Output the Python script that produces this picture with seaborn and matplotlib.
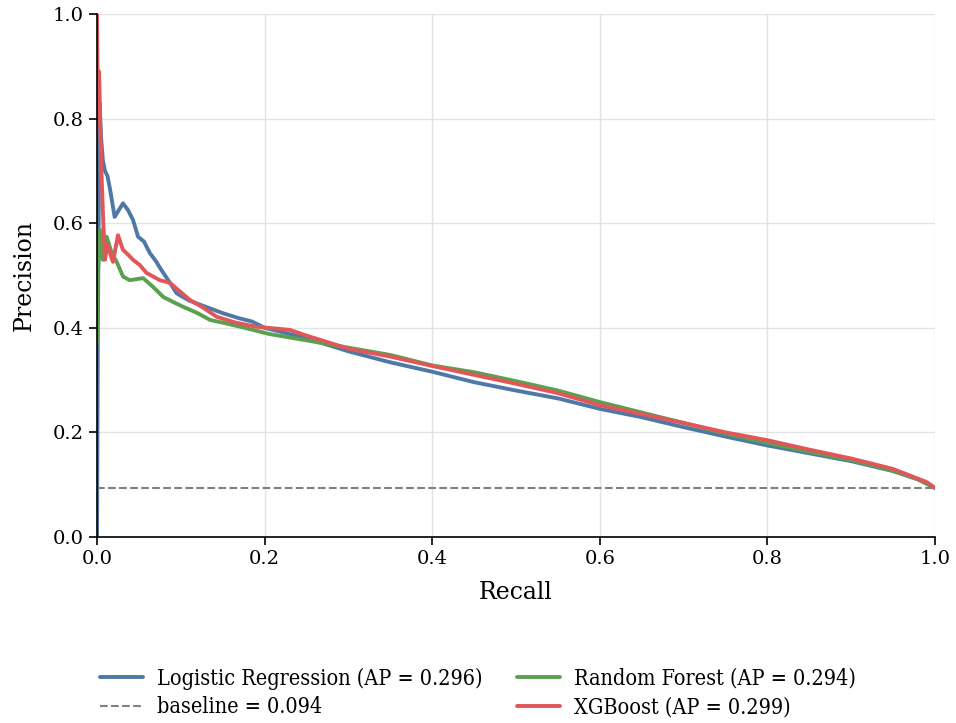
import numpy as np
import pandas as pd
import matplotlib
matplotlib.use("Agg")
import matplotlib.pyplot as plt
import seaborn as sns

# values
lr_recall = [0.0, 0.001, 0.003, 0.005, 0.007, 0.0095, 0.0125, 0.0155, 0.021, 0.026, 0.031, 0.037, 0.043, 0.049,
             0.056, 0.063, 0.070, 0.077, 0.087, 0.095, 0.11, 0.13, 0.15, 0.17, 0.185, 0.2, 0.25, 0.3,
             0.35, 0.4, 0.45, 0.5, 0.55, 0.6, 0.65, 0.7, 0.75, 0.8, 0.85, 0.9, 0.95, 0.98, 1.0]
lr_precision = [0.0, 0.40, 0.83, 0.76, 0.72, 0.70, 0.69, 0.665, 0.612, 0.625, 0.638, 0.625, 0.606, 0.574,
                0.565, 0.543, 0.528, 0.510, 0.486, 0.466, 0.452, 0.440, 0.428, 0.418, 0.412, 0.400, 0.380, 0.355,
                0.334, 0.316, 0.296, 0.280, 0.265, 0.245, 0.229, 0.210, 0.192, 0.175, 0.160, 0.145, 0.126, 0.110, 0.094]

rf_recall = [0.0, 0.001, 0.0036, 0.007, 0.0115, 0.0175, 0.0235, 0.031, 0.039, 0.047, 0.055, 0.067,
             0.079, 0.09, 0.103, 0.12, 0.135, 0.155, 0.171, 0.206, 0.25, 0.3, 0.35, 0.4, 0.45,
             0.5, 0.55, 0.6, 0.65, 0.7, 0.75, 0.8, 0.85, 0.9, 0.95, 0.98, 1.0]
rf_precision = [0.37, 0.50, 0.587, 0.530, 0.574, 0.543, 0.526, 0.498, 0.491, 0.493, 0.495, 0.478,
                0.459, 0.450, 0.440, 0.428, 0.415, 0.408, 0.402, 0.388, 0.376, 0.362, 0.348, 0.328, 0.315,
                0.298, 0.280, 0.258, 0.238, 0.218, 0.198, 0.180, 0.163, 0.147, 0.127, 0.110, 0.094]

xgb_recall = [0.0, 0.001, 0.0025, 0.0036, 0.0056, 0.0075, 0.0095, 0.0125, 0.0155, 0.019, 0.025, 0.031,
              0.037, 0.043, 0.051, 0.059, 0.075, 0.087, 0.10, 0.111, 0.125, 0.143, 0.165, 0.19, 0.23,
              0.25, 0.3, 0.35, 0.4, 0.45, 0.5, 0.55, 0.6, 0.65, 0.7, 0.75, 0.8, 0.85, 0.9, 0.95, 0.99, 1.0]
xgb_precision = [1.0, 0.80, 0.89, 0.80, 0.683, 0.60, 0.530, 0.560, 0.543, 0.526, 0.577, 0.549,
                 0.540, 0.530, 0.520, 0.505, 0.491, 0.486, 0.468, 0.453, 0.440, 0.421, 0.410, 0.402, 0.396,
                 0.385, 0.360, 0.345, 0.327, 0.310, 0.293, 0.275, 0.252, 0.235, 0.218, 0.200, 0.185, 0.167, 0.150, 0.130, 0.105, 0.094]

model_names = ["Logistic Regression", "Random Forest", "XGBoost"]
ap_scores = [0.296, 0.294, 0.299]
baseline = 0.094
colors = ["#4e79a7", "#59a14f", "#e15759"]

frames = []
for name, rec, prec in zip(model_names,
                           [lr_recall, rf_recall, xgb_recall],
                           [lr_precision, rf_precision, xgb_precision]):
    frames.append(pd.DataFrame({"Recall": rec, "Precision": prec, "model": name}))
df = pd.concat(frames, ignore_index=True)

sns.set_theme(style="ticks")
plt.rcParams["font.family"] = ["DejaVu Serif"]
for key in ["text.color", "axes.labelcolor", "xtick.color", "ytick.color"]:
    plt.rcParams[key] = "black"

fig = plt.figure(figsize=(9.56, 7.23), dpi=100)
ax = fig.add_axes([0.1015, 0.2573, 0.8765, 0.7233])

for name, ap, col in zip(model_names, ap_scores, colors):
    sub = df[df["model"] == name]
    sns.lineplot(data=sub, x="Recall", y="Precision", sort=False, estimator=None,
                 color=col, linewidth=2.8, ax=ax, label=f"{name} (AP = {ap:.3f})")
ax.plot([0, 1], [baseline, baseline], linestyle="--", color="gray",
        linewidth=1.5, label=f"baseline = {baseline:.3f}")

ax.set_xlim(0, 1)
ax.set_ylim(0, 1)
ax.grid(True, color="#e3e3e3", linewidth=1)
ax.set_axisbelow(True)
sns.despine(ax=ax)
for s in ["left", "bottom"]:
    ax.spines[s].set_color("black")
    ax.spines[s].set_linewidth(1.2)
ax.tick_params(axis="both", labelsize=14, length=6, width=1.2, color="black", direction="out")
ax.set_xlabel("Recall", fontsize=17, labelpad=9)
ax.set_ylabel("Precision", fontsize=17, labelpad=12)

h, l = ax.get_legend_handles_labels()
# order: LR, baseline, RF, XGB (filled column-wise with ncol=2)
order = [0, 3, 1, 2]
ax.get_legend().remove()
fig.legend([h[i] for i in order], [l[i] for i in order], ncol=2, frameon=False,
           loc="upper center", bbox_to_anchor=(0.5, 0.1035),
           prop={"family": "DejaVu Serif", "stretch": "condensed", "size": 15.5},
           handlelength=2.0, columnspacing=1.57, handletextpad=0.65, labelspacing=0.3)

fig.savefig("out.png", dpi=100)
